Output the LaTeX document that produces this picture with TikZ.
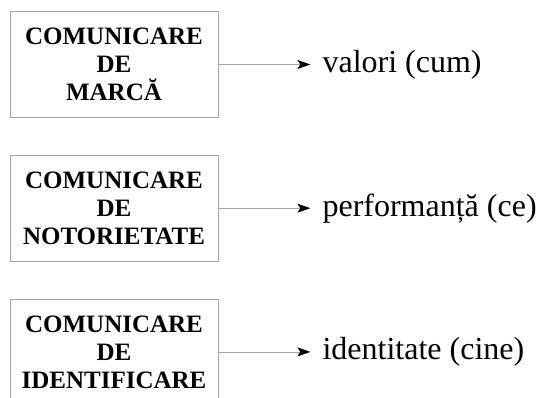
\documentclass[tikz,border=0pt]{standalone}
\usepackage{fontspec}
\setmainfont{LiberationSerif}[Extension=.ttf, UprightFont=*-Regular, BoldFont=*-Bold]
\usetikzlibrary{positioning,arrows.meta}

\begin{document}
\begin{tikzpicture}[
		x=1pt, y=-1pt
		,node distance=37pt
		,box/.style={draw=gray!70, line width=.7pt, minimum width=208pt, minimum height=106pt, align=center, font=\fontsize{25}{28}\selectfont\bfseries}
		,what/.style={inner xsep=12pt, inner ysep=0pt, font=\fontsize{32}{36}\selectfont}
		,link/.style={draw=gray!70, line width=.7pt, -{Stealth[black, length=13pt, width=9pt, inset=3pt]}}
	]
		\useasboundingbox (0,0) rectangle (540,398);
		\clip (0,0) rectangle (540,398);

		\node[box] (M) at (114,64.5) {COMUNICARE\\DE\\MARCĂ};
		\node[box, below=of M] (N) {COMUNICARE\\DE\\NOTORIETATE};
		\node[box, below=of N] (I) {COMUNICARE\\DE\\IDENTIFICARE};

		\node[what, right=92pt of M] (vm) {valori (cum)};
		\node[what, right=92pt of N] (vn) {performanță (ce)};
		\node[what, right=92pt of I] (vi) {identitate (cine)};

		\draw[link] (M) -- (vm);
		\draw[link] (N) -- (vn);
		\draw[link] (I) -- (vi);
	\end{tikzpicture}
\end{document}
